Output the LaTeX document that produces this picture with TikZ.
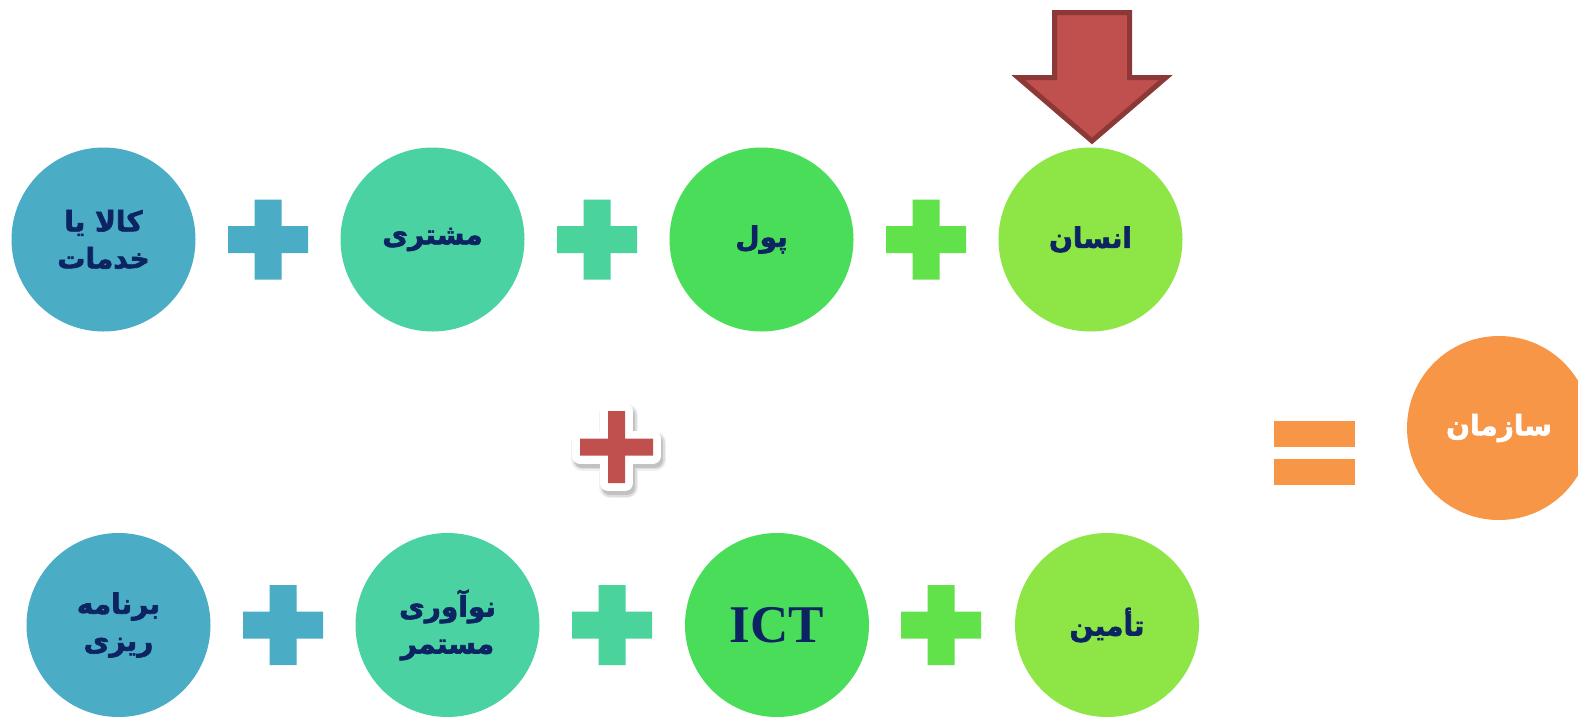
\documentclass[tikz,border=0pt]{standalone}
\usepackage{fontspec}
\newfontfamily\fa[Script=Arabic,FakeBold=2.2]{DejaVu Sans}
\newfontfamily\lat{Liberation Serif}
\TeXXeTstate=1
\newcommand\rl[1]{\beginR #1\endR}

\definecolor{cblue}{HTML}{4BACC6}
\definecolor{cteal}{HTML}{4BD2A2}
\definecolor{cgreen}{HTML}{4ADD5A}
\definecolor{clime}{HTML}{8EE646}
\definecolor{pteal}{HTML}{4AD49C}
\definecolor{pgreen}{HTML}{62E24A}
\definecolor{corange}{HTML}{F79646}
\definecolor{cred}{HTML}{C0504D}
\definecolor{cdarkred}{HTML}{8C3836}
\definecolor{ink}{HTML}{0C2461}

\tikzset{
  blob/.style={circle, minimum size=184pt, inner sep=0pt, fill=#1, text=ink,
    font=\fa\bfseries\fontsize{28}{37}\selectfont, align=center},
}
% a plus sign drawn from two crossing bars
\newcommand\plusmark[3]{%
  \fill[#3, shift={(#1,#2)}] (-40,-13.5) rectangle (40,13.5) (-13.5,-40) rectangle (13.5,40);}

\begin{document}
\begin{tikzpicture}[x=1pt,y=-1pt]
\clip (0,0) rectangle (1578,716);
\fill[white] (0,0) rectangle (1578,716);

% first row
\node[blob=cblue]  (c1) at (103.5,239.5) {\rl{کالا یا}\\\rl{خدمات}};
\node[blob=cteal]  (c2) at (432.5,239.5) {\rl{مشتری}};
\node[blob=cgreen] (c3) at (761.5,239.5) {\rl{پول}};
\node[blob=clime]  (c4) at (1090.5,239.5) {\rl{انسان}};
\plusmark{268}{239.5}{cblue}
\plusmark{597}{239.5}{pteal}
\plusmark{926}{239.5}{pgreen}

% second row
\node[blob=cblue]  (d1) at (118.5,625) {\rl{برنامه}\\\rl{ریزی}};
\node[blob=cteal]  (d2) at (447.5,625) {\rl{نوآوری}\\\rl{مستمر}};
\node[blob=cgreen, font=\lat\bfseries\fontsize{53}{60}\selectfont] (d3) at (777,625) {ICT};
\node[blob=clime]  (d4) at (1107,625) {\rl{تأمین}};
\plusmark{283}{625}{cblue}
\plusmark{612}{625}{pteal}
\plusmark{941}{625}{pgreen}

% the two rows are added: red plus with white rim and soft shadow
\begin{scope}[shift={(616.5,447)}]
  \def\crosspath{(-8.5,-36) -- (8.5,-36) -- (8.5,-8.5) -- (36.5,-8.5) -- (36.5,8.5) -- (8.5,8.5) -- (8.5,36) -- (-8.5,36) -- (-8.5,8.5) -- (-36.5,8.5) -- (-36.5,-8.5) -- (-8.5,-8.5) -- cycle}
  \foreach \w/\o in {22/0.06,19/0.08,16/0.12}
    \draw[black, opacity=\o, line width=\w, line join=round, shift={(2,4)}] \crosspath;
  \draw[white, fill=white, line width=16, line join=round] \crosspath;
  \fill[cred] \crosspath;
\end{scope}

% equals sign and result
\fill[corange] (1274,421) rectangle (1355,447);
\fill[corange] (1274,459) rectangle (1355,485);
\node[blob=corange, text=white] (org) at (1499,428) {\rl{سازمان}};

% arrow pointing down onto the first circle of the top row
\draw[fill=cred, draw=cdarkred, line width=5, line join=miter]
  (1054.5,12.5) -- (1129.5,12.5) -- (1129.5,77.5) -- (1166,77.5)
  -- (1092,141) -- (1018,77.5) -- (1054.5,77.5) -- cycle;
\end{tikzpicture}
\end{document}
